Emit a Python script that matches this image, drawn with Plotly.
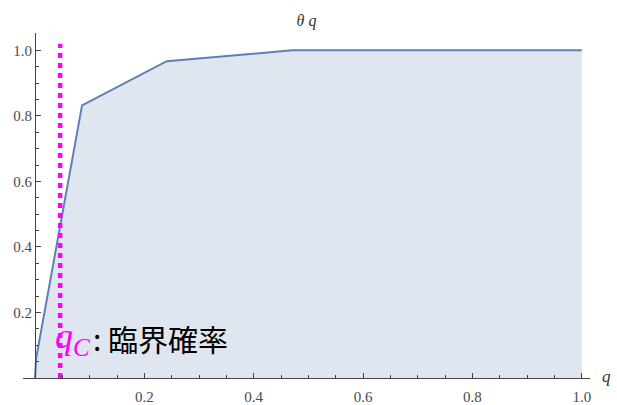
import plotly.graph_objects as go

# data
q_vals = [0.0, 0.002, 0.086, 0.241, 0.47, 1.0]
theta_vals = [0.0, 0.06, 0.832, 0.967, 1.0, 1.0]
q_c = 0.046
qc_line_y = [0.0, 1.02]
x_tick_vals = [0.2, 0.4, 0.6, 0.8, 1.0]
x_tick_text = ["0.2", "0.4", "0.6", "0.8", "1.0"]
y_tick_vals = [0.2, 0.4, 0.6, 0.8, 1.0]
y_tick_text = ["0.2", "0.4", "0.6", "0.8", "1.0"]

x_range = [-0.022, 1.015]
y_range = [0.0, 1.053]

fig = go.Figure()
fig.add_trace(go.Scatter(
    x=q_vals, y=theta_vals, mode="lines", fill="tozeroy",
    line=dict(color="#5E81B5", width=2),
    fillcolor="rgba(94,129,181,0.2)", hoverinfo="skip", showlegend=False))
fig.add_trace(go.Scatter(
    x=[q_c, q_c], y=qc_line_y, mode="lines",
    line=dict(color="#FF00FF", width=4.5, dash="5px,5px"),
    hoverinfo="skip", showlegend=False))

SERIF = "Liberation Serif, Times New Roman, DejaVu Serif, serif"
tickfont = dict(family=SERIF, size=15, color="#4a4a4a")
ypos = (0 - x_range[0]) / (x_range[1] - x_range[0])

fig.update_layout(
    width=617, height=405,
    margin=dict(l=23, r=27, t=33, b=27, autoexpand=False),
    paper_bgcolor="white", plot_bgcolor="white",
    xaxis=dict(range=x_range, showgrid=False, zeroline=False, automargin=False,
               showline=True, linecolor="#444", linewidth=1.2,
               tickmode="array", tickvals=x_tick_vals, ticktext=x_tick_text,
               ticks="inside", ticklen=5, tickcolor="#444", tickwidth=1.2,
               minor=dict(dtick=0.05, tick0=0, ticks="inside", ticklen=3,
                          tickcolor="#444", tickwidth=1),
               tickfont=tickfont, ticklabelstandoff=5),
    yaxis=dict(range=y_range, showgrid=False, zeroline=False, automargin=False,
               anchor="free", position=ypos,
               showline=True, linecolor="#444", linewidth=1.2,
               tickmode="array", tickvals=y_tick_vals, ticktext=y_tick_text,
               ticks="inside", ticklen=5, tickcolor="#444", tickwidth=1.2,
               minor=dict(dtick=0.05, tick0=0, ticks="inside", ticklen=3,
                          tickcolor="#444", tickwidth=1),
               tickfont=tickfont),
    title=dict(text="<i>θ q</i>", x=0.5, xref="paper", xanchor="center",
               y=1 - 20 / 405, yanchor="middle", yref="container",
               font=dict(family=SERIF, size=16, color="#333")),
)

fig.add_annotation(
    x=1, xref="paper", y=0, yref="y", xanchor="left", yanchor="middle",
    xshift=10, yshift=2, showarrow=False, text="<i>q</i>",
    font=dict(family=SERIF, size=17, color="#333"))

fig.add_annotation(
    x=q_c, y=0.12, xref="x", yref="y", xanchor="left", yanchor="middle",
    xshift=-7, showarrow=False, text="<i>q</i><sub><i>C</i></sub>",
    font=dict(family=SERIF, size=36, color="#FF00FF"))

fig.add_annotation(
    x=q_c, y=0.122, xref="x", yref="y", xanchor="left", yanchor="middle",
    xshift=31, showarrow=False, text=": 臨界確率",
    font=dict(family="Noto Sans CJK JP", size=30, color="black"))

fig.write_html("out.html", config={"displayModeBar": False},
               post_script="document.body.style.margin='0';document.body.style.overflow='hidden';")
